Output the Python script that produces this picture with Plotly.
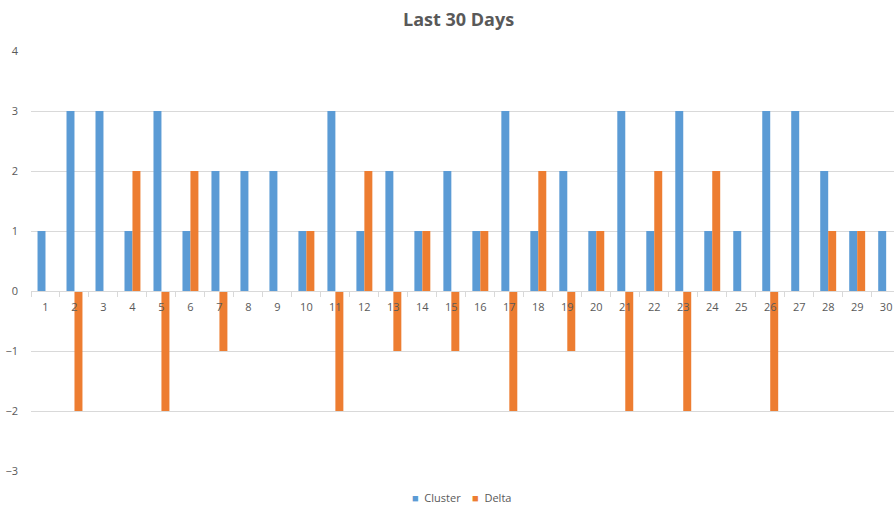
import plotly.graph_objects as go

days = [str(i) for i in range(1, 31)]
cluster = [1, 3, 3, 1, 3, 1, 2, 2, 2, 1, 3, 1, 2, 1, 2, 1, 3, 1, 2, 1, 3, 1, 3, 1, 1, 3, 3, 2, 1, 1]
delta = [0, -2, 0, 2, -2, 2, -1, 0, 0, 1, -2, 2, -1, 1, -1, 1, -2, 2, -1, 1, -2, 2, -2, 2, 0, -2, 0, 1, 1, 0]
y_ticks = [-3, -2, -1, 0, 1, 2, 3, 4]
series_names = ["Cluster", "Delta"]
series_colors = ["#5B9BD5", "#ED7D31"]

xnum = list(range(1, 31))

fig = go.Figure()
fig.add_trace(go.Bar(x=xnum, y=cluster, name=series_names[0], showlegend=False,
                     marker=dict(color=series_colors[0], line=dict(width=0))))
fig.add_trace(go.Bar(x=xnum, y=delta, name=series_names[1], showlegend=False,
                     marker=dict(color=series_colors[1], line=dict(width=0))))

font_col = "#595959"
legend_text = "&nbsp;&nbsp;&nbsp;&nbsp;".join(
    f"<span style='color:{c}'>■</span>&nbsp;&nbsp;{n}" for n, c in zip(series_names, series_colors)
)
fig.add_annotation(text=legend_text, x=(461 - 31) / 863, xref="paper",
                   y=(471 - 497) / 420, yref="paper",
                   xanchor="center", yanchor="middle", showarrow=False,
                   font=dict(size=11, color=font_col))

fig.update_layout(
    width=894, height=507,
    paper_bgcolor="white", plot_bgcolor="white",
    margin=dict(l=31, r=0, t=51, b=36, autoexpand=False),
    barmode="group", bargap=0.45, bargroupgap=0,
    font=dict(family="Open Sans", size=11, color=font_col),
    title=dict(text="<b>Last 30 Days</b>", x=0.513, xref="container", xanchor="center",
               y=1 - 20 / 507, yref="container", yanchor="middle",
               font=dict(family="Open Sans", size=18, color=font_col)),
    xaxis=dict(range=[0.5, 30.27], tickmode="array", tickvals=xnum, ticktext=days,
               anchor="free", position=180 / 420, showgrid=False, automargin=False,
               showline=True, linecolor="#d9d9d9", linewidth=1,
               ticks="", tickfont=dict(size=11, color=font_col), ticklabelstandoff=6,
               minor=dict(ticks="outside", tick0=0.5, dtick=1, ticklen=5,
                          tickcolor="#d9d9d9", showgrid=False),
               zeroline=False),
    yaxis=dict(range=[-3, 4], tickvals=y_ticks, showgrid=True, gridcolor="#d9d9d9",
               gridwidth=1, zeroline=False, showline=False, ticks="", automargin=False,
               tickfont=dict(size=11, color=font_col), ticklabelstandoff=12),
)

fig.write_html("out.html", config={"displayModeBar": False},
               post_script="document.body.style.margin='0px';document.body.style.overflow='hidden';")
